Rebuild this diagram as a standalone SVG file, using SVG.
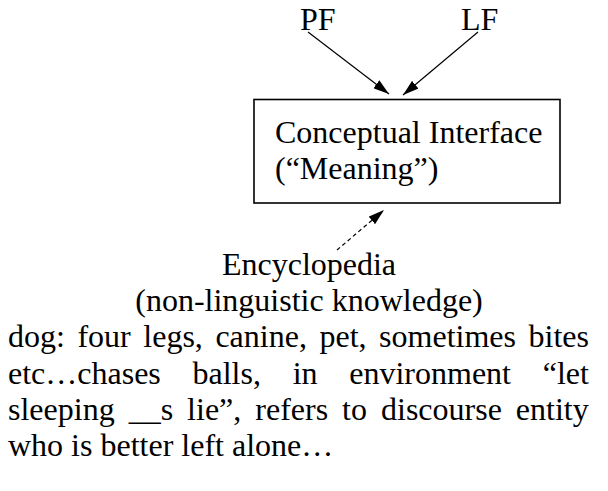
<svg xmlns="http://www.w3.org/2000/svg" width="608" height="491" viewBox="0 0 608 491">
  <defs>
    <marker id="ah" viewBox="0 0 16 10" refX="16" refY="5" markerWidth="16" markerHeight="10" markerUnits="userSpaceOnUse" orient="auto">
      <path d="M0,0 L16,5 L0,10 Z" fill="#000"/>
    </marker>
  </defs>
  <style>
    text { font-family: "Liberation Serif", "Times New Roman", serif; font-size: 32px; fill: #000; }
    .edge { stroke: #000; stroke-width: 1.2; fill: none; marker-end: url(#ah); }
    .dash { stroke-dasharray: 4 3; }
    .box { fill: #fff; stroke: #000; stroke-width: 1.6; }
  </style>
  <rect width="608" height="491" fill="#fff"/>
  <g id="PF"><text x="300" y="30">PF</text></g>
  <g id="LF"><text x="461" y="30">LF</text></g>
  <g id="interface">
    <rect class="box" x="254" y="99.5" width="306" height="103.5"/>
    <text x="275" y="143">Conceptual Interface</text>
    <text x="275" y="179">(“Meaning”)</text>
  </g>
  <g id="encyclopedia">
    <text x="309" y="275" text-anchor="middle">Encyclopedia</text>
    <text x="309" y="311" text-anchor="middle">(non-linguistic knowledge)</text>
  </g>
  <g id="description">
    <text x="8" y="347" word-spacing="4.55">dog: four legs, canine, pet, sometimes bites</text>
    <text x="8" y="384" word-spacing="23.7">etc…chases balls, in environment “let</text>
    <text x="8" y="420" word-spacing="6">sleeping __s lie”, refers to discourse entity</text>
    <text x="8" y="456">who is better left alone…</text>
  </g>
  <g id="connectors">
    <line class="edge" x1="308" y1="32" x2="389" y2="94"/>
    <line class="edge" x1="478" y1="32" x2="403" y2="95"/>
    <line class="edge dash" x1="337" y1="250" x2="384" y2="210"/>
  </g>
</svg>
